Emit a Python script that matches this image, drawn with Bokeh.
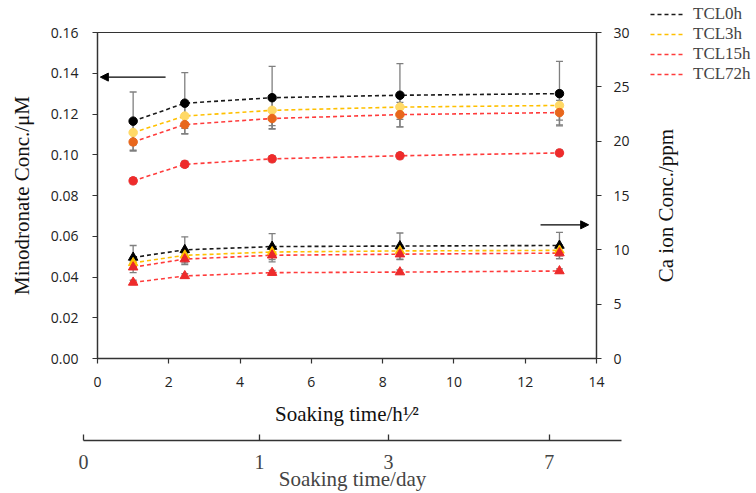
import math
from bokeh.plotting import figure
from bokeh.models import (Range1d, LinearAxis, SingleIntervalTicker, FixedTicker,
                          NumeralTickFormatter, Legend, LegendItem, Arrow, NormalHead)
from bokeh.layouts import column, row
from bokeh.core.properties import value
from bokeh.embed import file_html
from bokeh.resources import INLINE

# ---------------- data ----------------
series = ["TCL0h", "TCL3h", "TCL15h", "TCL72h"]
time_sqrt_h = [1.0, 2.449, 4.899, 8.485, 12.961]

# Minodronate concentration (uM), left axis (circles)
mino_0h = [0.1165, 0.1253, 0.1280, 0.1292, 0.1300]
mino_3h = [0.1109, 0.1190, 0.1218, 0.1234, 0.1242]
mino_15h = [0.1063, 0.1148, 0.1178, 0.1197, 0.1207]
mino_72h = [0.0872, 0.0953, 0.0980, 0.0995, 0.1009]
mino_err_0h = [0.0143, 0.0150, 0.0154, 0.0155, 0.0158]
mino_err_3h = [0.0060, 0.0060, 0.0075, 0.0060, 0.0072]
mino_err_15h = [0.0045, 0.0045, 0.0050, 0.0060, 0.0060]
mino_err_72h = [0.0015, 0.0015, 0.0015, 0.0015, 0.0015]

# Ca ion concentration (ppm), right axis (triangles)
ca_0h = [9.30, 10.00, 10.30, 10.35, 10.40]
ca_3h = [8.80, 9.50, 9.80, 9.90, 9.95]
ca_15h = [8.40, 9.15, 9.50, 9.60, 9.70]
ca_72h = [7.00, 7.60, 7.90, 7.95, 8.05]
ca_err_0h = [1.10, 1.20, 1.20, 1.20, 1.20]
ca_err_3h = [0.50, 0.50, 0.50, 0.50, 0.50]
ca_err_15h = [0.50, 0.50, 0.60, 0.50, 0.50]
ca_err_72h = [0.20, 0.20, 0.20, 0.20, 0.20]

x_ticks_sqrt_h = [0, 2, 4, 6, 8, 10, 12, 14]
day_ticks = [0, 1, 3, 7]
day_labels = ["0", "1", "3", "7"]
right_axis_title = "Ca ion Conc./ppm"

# ---------------- styles ----------------
line_colors = ["#1a1a1a", "#FFC000", "#FF3B3B", "#FF3B3B"]
circle_colors = ["#000000", "#FFD966", "#E8671C", "#EE2B2B"]
tri_colors = ["#000000", "#FFC000", "#E8262B", "#EE2B2B"]
err_color = "#7F7F7F"
SERIF = "Liberation Serif"
SANS = "Open Sans"

mino = [mino_0h, mino_3h, mino_15h, mino_72h]
mino_err = [mino_err_0h, mino_err_3h, mino_err_15h, mino_err_72h]
ca = [ca_0h, ca_3h, ca_15h, ca_72h]
ca_err = [ca_err_0h, ca_err_3h, ca_err_15h, ca_err_72h]

MAIN_W, SIDE_W, MAIN_H, DAY_H = 640, 116, 428, 65

p = figure(width=MAIN_W, height=MAIN_H, x_range=Range1d(0, 14), y_range=Range1d(0, 0.16),
           toolbar_location=None, output_backend="svg",
           min_border_left=97, min_border_right=44, min_border_top=32, min_border_bottom=69)
p.extra_y_ranges = {"ca": Range1d(0, 30)}
p.grid.visible = False
p.outline_line_color = "#333333"
p.outline_line_width = 1.2
p.background_fill_color = None
p.border_fill_color = None

def err_bars(xs, ys, es, yrn):
    lo = [y - e for y, e in zip(ys, es)]
    hi = [y + e for y, e in zip(ys, es)]
    p.segment(x0=xs, y0=lo, x1=xs, y1=hi, line_color=err_color, line_width=1.3, y_range_name=yrn)
    p.scatter(x=xs + xs, y=lo + hi, marker="dash", size=7, line_color=err_color,
              line_width=1.3, y_range_name=yrn)

for i in range(4):
    err_bars(time_sqrt_h, mino[i], mino_err[i], "default")
    err_bars(time_sqrt_h, ca[i], ca_err[i], "ca")

for i in range(4):
    p.line(time_sqrt_h, mino[i], line_color=line_colors[i], line_dash="4 3", line_width=1.6)
    p.line(time_sqrt_h, ca[i], line_color=line_colors[i], line_dash="4 3", line_width=1.6,
           y_range_name="ca")

for i in range(4):
    p.scatter(time_sqrt_h, mino[i], marker="circle", size=8.5, fill_color=circle_colors[i],
              line_color=circle_colors[i])
    p.scatter(time_sqrt_h, ca[i], marker="triangle", size=9.5, fill_color=tri_colors[i],
              line_color=tri_colors[i], y_range_name="ca")

# axes
p.xaxis.ticker = FixedTicker(ticks=x_ticks_sqrt_h)
p.xaxis.axis_label = "Soaking time/h\u00b9\u2044\u00b2"
p.xaxis.axis_label_standoff = 12
p.yaxis.ticker = SingleIntervalTicker(interval=0.02)
p.yaxis.formatter = NumeralTickFormatter(format="0.00")
p.yaxis.axis_label = "Minodronate Conc./\u03bcM"
p.yaxis.axis_label_standoff = 14
p.yaxis.major_label_standoff = 14

ax_r = LinearAxis(y_range_name="ca", ticker=SingleIntervalTicker(interval=5))
ax_r.major_label_standoff = 12
p.add_layout(ax_r, "right")

for ax in [p.xaxis[0], p.yaxis[0], ax_r]:
    ax.axis_line_color = "#333333"
    ax.axis_line_width = 1.3
    ax.major_tick_line_color = "#333333"
    ax.major_tick_line_width = 1.2
    ax.major_tick_in = 0
    ax.major_tick_out = 5
    ax.minor_tick_line_color = None
    ax.major_label_text_font = SANS
    ax.major_label_text_font_size = "14px"
    ax.major_label_text_color = "#222222"
    ax.axis_label_text_font = SERIF
    ax.axis_label_text_font_size = "21px"
    ax.axis_label_text_font_style = "normal"
    ax.axis_label_text_color = "#111111"
p.xaxis.major_label_standoff = 13

# arrows
arrow_left = dict(x_start=1.91, y_start=0.1381, x_end=0.08, y_end=0.1381)
arrow_right = dict(x_start=12.43, y_start=0.0656, x_end=13.78, y_end=0.0656)
for a in [arrow_left, arrow_right]:
    p.add_layout(Arrow(end=NormalHead(size=8, fill_color="black", line_color="black"),
                       line_color="black", line_width=1.3, **a))

# ---------------- side panel: legend + right axis title ----------------
s = figure(width=SIDE_W, height=MAIN_H, x_range=Range1d(0, SIDE_W), y_range=Range1d(0, MAIN_H),
           toolbar_location=None, output_backend="svg", x_axis_location=None,
           y_axis_location=None, min_border=0)
s.grid.visible = False
s.outline_line_color = None
s.background_fill_color = None
s.border_fill_color = None
legend_items = []
for i in range(4):
    r = s.line([-20, -10], [-20, -10], line_color=line_colors[i], line_dash="4 3", line_width=1.6)
    legend_items.append(LegendItem(label=series[i], renderers=[r]))
legend = Legend(items=legend_items, location=(10, 344), orientation="vertical",
                glyph_width=35, glyph_height=20, label_height=20, spacing=0,
                padding=0, margin=0, label_standoff=8,
                label_text_font=SERIF, label_text_font_size="17px",
                border_line_color=None, background_fill_alpha=0)
s.add_layout(legend)
s.text(x=[25], y=[223], text=[right_axis_title], angle=math.pi / 2,
       text_font=value(SERIF), text_font_size="21px", text_align="center",
       text_baseline="middle", text_color="#111111")

# ---------------- day axis figure ----------------
day_pos = [math.sqrt(24 * d) for d in day_ticks]
q = figure(width=MAIN_W + SIDE_W, height=DAY_H, x_range=Range1d(0, 14.97), y_range=Range1d(0, 1),
           toolbar_location=None, output_backend="svg", y_axis_location=None,
           min_border_left=83, min_border_right=135, min_border_top=0, min_border_bottom=52)
for fig in (p, s, q):
    if "frame_align" in fig.properties():
        fig.frame_align = False
q.grid.visible = False
q.outline_line_color = None
q.background_fill_color = None
q.border_fill_color = None
q.scatter([0], [0.5], size=0, alpha=0)
xa = q.xaxis[0]
xa.ticker = FixedTicker(ticks=day_pos)
xa.major_label_overrides = {pos: lab for pos, lab in zip(day_pos, day_labels)}
xa.axis_line_color = "#333333"
xa.axis_line_width = 1.5
xa.major_tick_line_color = "#333333"
xa.major_tick_line_width = 1.3
xa.major_tick_in = 6
xa.major_tick_out = 0
xa.minor_tick_line_color = None
xa.major_label_text_font = SERIF
xa.major_label_text_font_size = "20px"
xa.major_label_standoff = 14
xa.axis_label = "Soaking time/day"
xa.axis_label_text_font = SERIF
xa.axis_label_text_font_size = "21px"
xa.axis_label_text_font_style = "normal"
xa.axis_label_standoff = -5

layout = column(row(p, s, spacing=0), q, spacing=0)
open("out.html", "w").write(file_html(layout, INLINE))
